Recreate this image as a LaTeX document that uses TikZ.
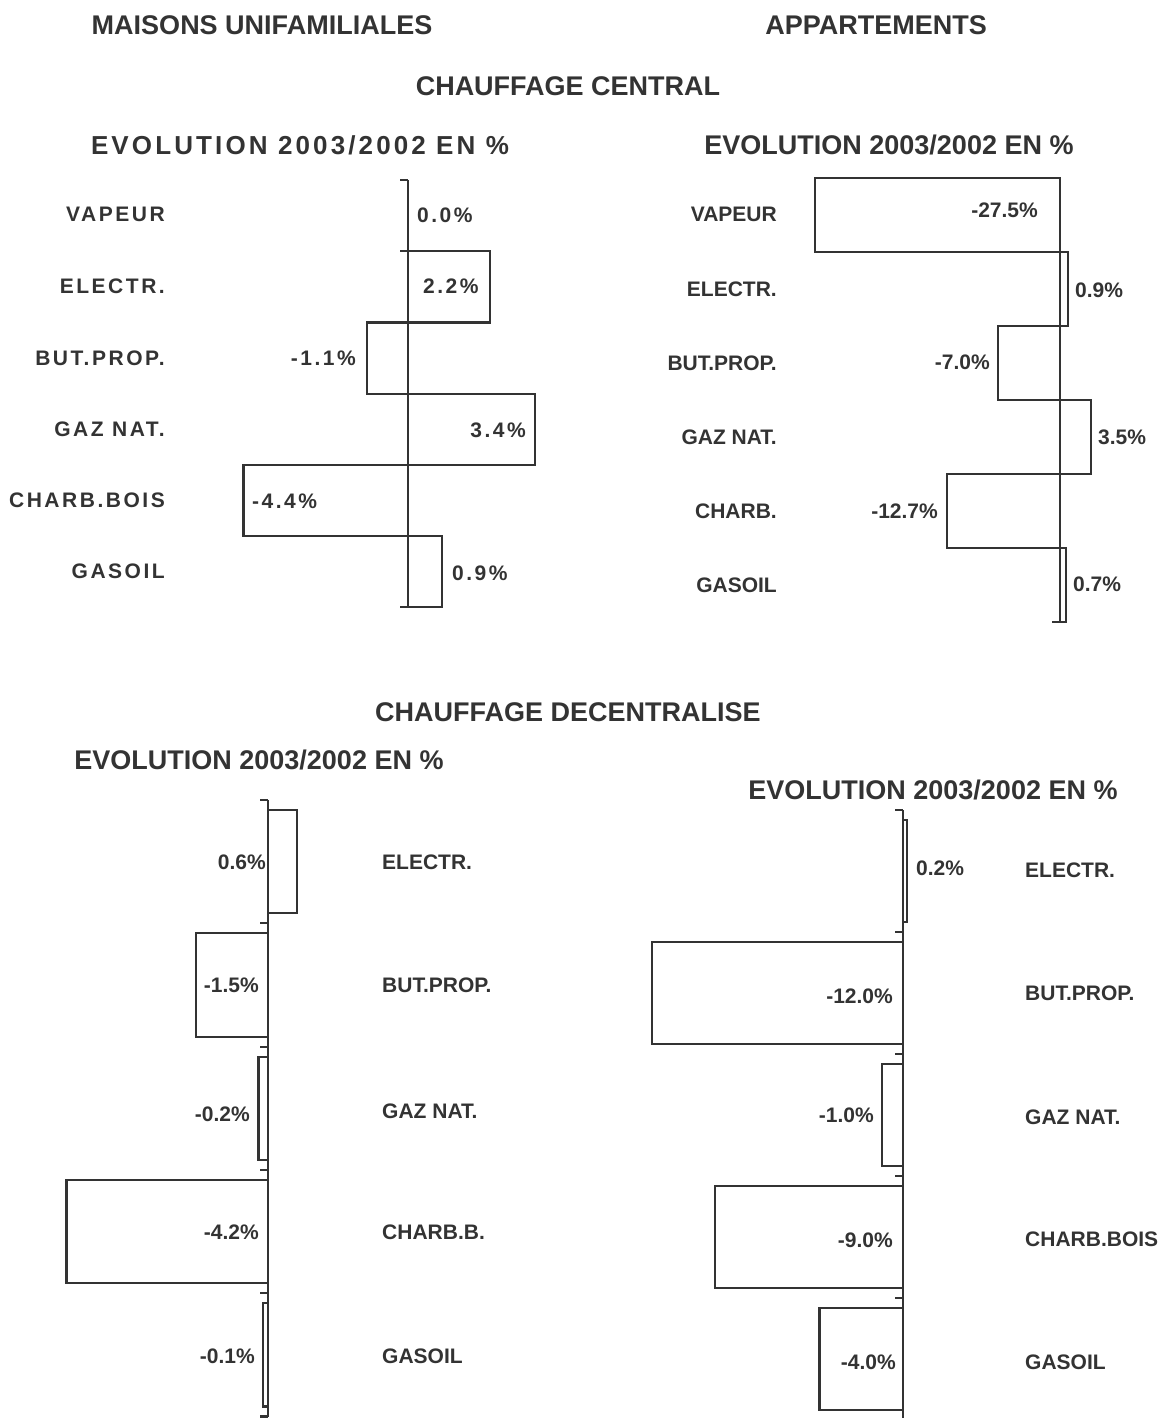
\documentclass[tikz,border=0pt]{standalone}
\usepackage{fontspec}
\setmainfont{Liberation Sans}
\newfontfamily\spacedfont[LetterSpace=12]{Liberation Sans}
\newfontfamily\widefont[LetterSpace=12]{Liberation Sans}
\usepackage{xcolor}
\definecolor{ink}{HTML}{333333}

\begin{document}
\begin{tikzpicture}[x=1pt,y=-1pt,color=ink]

    \tikzstyle{headline}=[inner sep=0pt, font=\bfseries\fontsize{27}{30}\selectfont]
    \tikzstyle{spacedheadline}=[inner sep=0pt, font=\widefont\bfseries\fontsize{26}{30}\selectfont]
    \tikzstyle{fuel}=[inner sep=0pt, font=\bfseries\fontsize{21}{24}\selectfont]
    \tikzstyle{spacedfuel}=[inner sep=0pt, font=\spacedfont\bfseries\fontsize{21}{24}\selectfont]
    \tikzstyle{axisline}=[line width=2.2pt]
    \tikzstyle{barbox}=[draw, line width=2.2pt]

    \newcommand\evoaxis[4]{
        \draw[axisline] (#1,#2) -- (#1,{#2+#4*#3});
        \foreach \k in {0,...,#4} \draw[axisline] (#1-8,{#2+\k*#3}) -- (#1,{#2+\k*#3});
    }
    %\evoaxis{axis x}{top}{step}{steps}
    \newcommand\evobar[5]{
        \draw[barbox] (#1,#2) rectangle ({#1+#4*#5},#3);
    }
    %\evobar{axis x}{top}{bottom}{value}{px per percent}

    \useasboundingbox (0,0) rectangle (1160,1418);

    % headings
    \node[headline] (maisons) at (262,25) {MAISONS UNIFAMILIALES};
    \node[headline] (apparts) at (876,25) {APPARTEMENTS};
    \node[headline] (central) at (568,86) {CHAUFFAGE CENTRAL};
    \node[spacedheadline] (evo_mu_c) at (300,145) {EVOLUTION 2003/2002 EN \%};
    \node[headline] (evo_ap_c) at (889,145) {EVOLUTION 2003/2002 EN \%};
    \node[headline] (decentral) at (568,712) {CHAUFFAGE DECENTRALISE};
    \node[headline] (evo_mu_d) at (259,760) {EVOLUTION 2003/2002 EN \%};
    \node[headline] (evo_ap_d) at (933,790) {EVOLUTION 2003/2002 EN \%};

    % maisons, chauffage central
    \evoaxis{408}{180}{71.2}{6}
    \evobar{408}{251.2}{322.4}{2.2}{37.4}
    \evobar{408}{322.4}{393.6}{-1.1}{37.4}
    \evobar{408}{393.6}{464.8}{3.4}{37.4}
    \evobar{408}{464.8}{536}{-4.4}{37.4}
    \evobar{408}{536}{607.2}{0.9}{37.4}

    \node[spacedfuel, anchor=east] (mu_c_vapeur) at (165,214.5) {VAPEUR};
    \node[spacedfuel, anchor=east] (mu_c_electr) at (165,286) {ELECTR.};
    \node[spacedfuel, anchor=east] (mu_c_butprop) at (165,358) {BUT.PROP.};
    \node[spacedfuel, anchor=east] (mu_c_gaz) at (165,429.2) {GAZ NAT.};
    \node[spacedfuel, anchor=east] (mu_c_charb) at (165,500.4) {CHARB.BOIS};
    \node[spacedfuel, anchor=east] (mu_c_gasoil) at (165,571.6) {GASOIL};

    \node[spacedfuel, anchor=west] (mu_c_vapeur_val) at (417,215) {0.0\%};
    \node[spacedfuel, anchor=west] (mu_c_electr_val) at (423,286.5) {2.2\%};
    \node[spacedfuel, anchor=east] (mu_c_butprop_val) at (356,358) {-1.1\%};
    \node[spacedfuel, anchor=east] (mu_c_gaz_val) at (526,430) {3.4\%};
    \node[spacedfuel, anchor=west] (mu_c_charb_val) at (252,501) {-4.4\%};
    \node[spacedfuel, anchor=west] (mu_c_gasoil_val) at (452,573) {0.9\%};

    % appartements, chauffage central
    \evoaxis{1060}{178}{74}{6}
    \evobar{1060}{178}{252}{-27.5}{8.9}
    \evobar{1060}{252}{326}{0.9}{8.9}
    \evobar{1060}{326}{400}{-7.0}{8.9}
    \evobar{1060}{400}{474}{3.5}{8.9}
    \evobar{1060}{474}{548}{-12.7}{8.9}
    \evobar{1060}{548}{622}{0.7}{8.9}

    \node[fuel, anchor=east] (ap_c_vapeur) at (777,214.7) {VAPEUR};
    \node[fuel, anchor=east] (ap_c_electr) at (777,289) {ELECTR.};
    \node[fuel, anchor=east] (ap_c_butprop) at (777,363) {BUT.PROP.};
    \node[fuel, anchor=east] (ap_c_gaz) at (777,437) {GAZ NAT.};
    \node[fuel, anchor=east] (ap_c_charb) at (777,511) {CHARB.};
    \node[fuel, anchor=east] (ap_c_gasoil) at (777,585) {GASOIL};

    \node[fuel, anchor=east] (ap_c_vapeur_val) at (1038,210) {-27.5\%};
    \node[fuel, anchor=west] (ap_c_electr_val) at (1075,290) {0.9\%};
    \node[fuel, anchor=east] (ap_c_butprop_val) at (990,362) {-7.0\%};
    \node[fuel, anchor=west] (ap_c_gaz_val) at (1098,437) {3.5\%};
    \node[fuel, anchor=east] (ap_c_charb_val) at (938,511) {-12.7\%};
    \node[fuel, anchor=west] (ap_c_gasoil_val) at (1073,584) {0.7\%};

    % maisons, chauffage decentralise
    \evoaxis{268}{800}{123.3}{5}
    \evobar{268}{810}{913.3}{0.6}{48}
    \evobar{268}{933.3}{1036.6}{-1.5}{48}
    \evobar{268}{1056.6}{1159.9}{-0.2}{48}
    \evobar{268}{1179.9}{1283.2}{-4.2}{48}
    \evobar{268}{1303.2}{1406.5}{-0.1}{48}

    \node[fuel, anchor=west] (mu_d_electr) at (382,862) {ELECTR.};
    \node[fuel, anchor=west] (mu_d_butprop) at (382,985) {BUT.PROP.};
    \node[fuel, anchor=west] (mu_d_gaz) at (382,1111) {GAZ NAT.};
    \node[fuel, anchor=west] (mu_d_charb) at (382,1232) {CHARB.B.};
    \node[fuel, anchor=west] (mu_d_gasoil) at (382,1356) {GASOIL};

    \node[fuel, anchor=east] (mu_d_electr_val) at (266,862) {0.6\%};
    \node[fuel, anchor=east] (mu_d_butprop_val) at (259,985) {-1.5\%};
    \node[fuel, anchor=east] (mu_d_gaz_val) at (250,1114) {-0.2\%};
    \node[fuel, anchor=east] (mu_d_charb_val) at (259,1232) {-4.2\%};
    \node[fuel, anchor=east] (mu_d_gasoil_val) at (255,1356) {-0.1\%};

    % appartements, chauffage decentralise
    \evoaxis{903}{810}{122}{5}
    \evobar{903}{820}{922}{0.2}{20.9}
    \evobar{903}{942}{1044}{-12.0}{20.9}
    \evobar{903}{1064}{1166}{-1.0}{20.9}
    \evobar{903}{1186}{1288}{-9.0}{20.9}
    \evobar{903}{1308}{1410}{-4.0}{20.9}

    \node[fuel, anchor=west] (ap_d_electr) at (1025,870) {ELECTR.};
    \node[fuel, anchor=west] (ap_d_butprop) at (1025,993) {BUT.PROP.};
    \node[fuel, anchor=west] (ap_d_gaz) at (1025,1117) {GAZ NAT.};
    \node[fuel, anchor=west] (ap_d_charb) at (1025,1239) {CHARB.BOIS};
    \node[fuel, anchor=west] (ap_d_gasoil) at (1025,1362) {GASOIL};

    \node[fuel, anchor=west] (ap_d_electr_val) at (916,868) {0.2\%};
    \node[fuel, anchor=east] (ap_d_butprop_val) at (893,996) {-12.0\%};
    \node[fuel, anchor=east] (ap_d_gaz_val) at (874,1115) {-1.0\%};
    \node[fuel, anchor=east] (ap_d_charb_val) at (893,1240) {-9.0\%};
    \node[fuel, anchor=east] (ap_d_gasoil_val) at (896,1362) {-4.0\%};

\end{tikzpicture}
\end{document}
